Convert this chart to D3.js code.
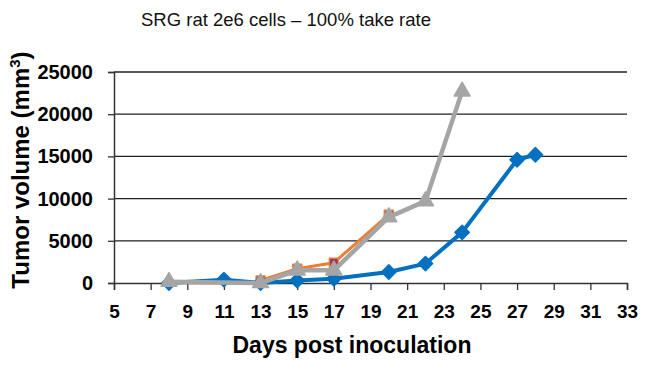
<!DOCTYPE html>
<html>
<head>
<meta charset="utf-8">
<script src="https://cdn.jsdelivr.net/npm/d3@7"></script>
<style>
  body { margin: 0; background: #fff; }
  text { font-family: "Liberation Sans", Arial, sans-serif; }
</style>
</head>
<body>
<div id="chart"></div>
<script>
const W = 658, H = 370;
const margin = { top: 72, right: 31, bottom: 87, left: 114 };
const width = W - margin.left - margin.right;
const height = H - margin.top - margin.bottom;

const xTicks = [5, 7, 9, 11, 13, 15, 17, 19, 21, 23, 25, 27, 29, 31, 33];
const yTicks = [0, 5000, 10000, 15000, 20000, 25000];

const blueDays = [8, 11, 13, 15, 17, 20, 22, 24, 27, 28];
const blueVals = [0, 400, 0, 300, 500, 1300, 2300, 6000, 14600, 15200];

const orangeDays = [13, 15, 17, 20];
const orangeVals = [300, 1700, 2400, 8100];

const grayDays = [8, 13, 15, 17, 20, 22, 24];
const grayVals = [150, 0, 1500, 1500, 7800, 9700, 22700];

const svg = d3.select("#chart").append("svg")
    .attr("width", W)
    .attr("height", H);

const g = svg.append("g")
    .attr("transform", `translate(${margin.left},${margin.top})`);

const x = d3.scaleLinear().domain([5, 33]).range([0, width]);
const y = d3.scaleLinear().domain([0, 25000]).range([height, 0]);

// gridlines
g.append("g")
    .selectAll("line")
    .data(yTicks.slice(1))
    .join("line")
    .attr("x1", 0)
    .attr("x2", width)
    .attr("y1", d => y(d))
    .attr("y2", d => y(d))
    .attr("stroke", "#222")
    .attr("stroke-width", 1.3);

// y axis
const yAxis = g.append("g")
    .call(d3.axisLeft(y).tickValues(yTicks).tickSize(6).tickPadding(15).tickFormat(d3.format("d")));
yAxis.select(".domain").attr("stroke", "#333").attr("stroke-width", 1.5);
yAxis.selectAll(".tick line").attr("stroke", "#333").attr("stroke-width", 1.3);
yAxis.selectAll("text")
    .attr("font-size", 20)
    .attr("font-weight", "bold")
    .attr("fill", "#000");

// x axis
const xAxis = g.append("g")
    .attr("transform", `translate(0,${height})`)
    .call(d3.axisBottom(x).tickValues(xTicks).tickSize(7).tickPadding(15));
xAxis.select(".domain").attr("stroke", "#333").attr("stroke-width", 1.5);
xAxis.selectAll(".tick line").attr("stroke", "#333").attr("stroke-width", 1.3);
xAxis.selectAll("text")
    .attr("font-size", 19)
    .attr("font-weight", "bold")
    .attr("fill", "#000");

const line = d3.line()
    .x(d => x(d[0]))
    .y(d => y(d[1]));

function drawSeries(days, vals, color, lw, symbol, size, markFill) {
    const data = days.map((d, i) => [d, vals[i]]);
    const s = g.append("g");
    s.append("path")
        .datum(data)
        .attr("fill", "none")
        .attr("stroke", color)
        .attr("stroke-width", lw)
        .attr("stroke-linejoin", "round")
        .attr("d", line);
    s.selectAll("path.mk")
        .data(data)
        .join("path")
        .attr("class", "mk")
        .attr("transform", d => `translate(${x(d[0])},${y(d[1])})`)
        .attr("d", d3.symbol().type(symbol).size(size))
        .attr("fill", markFill)
        .attr("stroke", color)
        .attr("stroke-width", 1.5)
        .attr("stroke-linejoin", "round");
}

drawSeries(orangeDays, orangeVals, "#ED7D31", 3, d3.symbolSquare, 80, "#993366");
drawSeries(blueDays, blueVals, "#0070C0", 4, d3.symbolDiamond2 || d3.symbolDiamond, 130, "#0070C0");
drawSeries(grayDays, grayVals, "#A5A5A5", 4.5, d3.symbolTriangle, 110, "#A5A5A5");

// title
svg.append("text")
    .attr("x", 286)
    .attr("y", 26)
    .attr("text-anchor", "middle")
    .attr("font-size", 18.5)
    .attr("fill", "#111")
    .text("SRG rat 2e6 cells – 100% take rate");

// axis titles
svg.append("text")
    .attr("x", 352)
    .attr("y", 353)
    .attr("text-anchor", "middle")
    .attr("font-size", 23)
    .attr("font-weight", "bold")
    .attr("fill", "#000")
    .text("Days post inoculation");

const yt = svg.append("text")
    .attr("transform", "translate(29,170) rotate(-90)")
    .attr("text-anchor", "middle")
    .attr("font-size", 24)
    .attr("font-weight", "bold")
    .attr("fill", "#000");
yt.append("tspan").text("Tumor volume (mm");
yt.append("tspan").attr("font-size", 15).attr("dy", -9).text("3");
yt.append("tspan").attr("dy", 9).text(")");
</script>
</body>
</html>
